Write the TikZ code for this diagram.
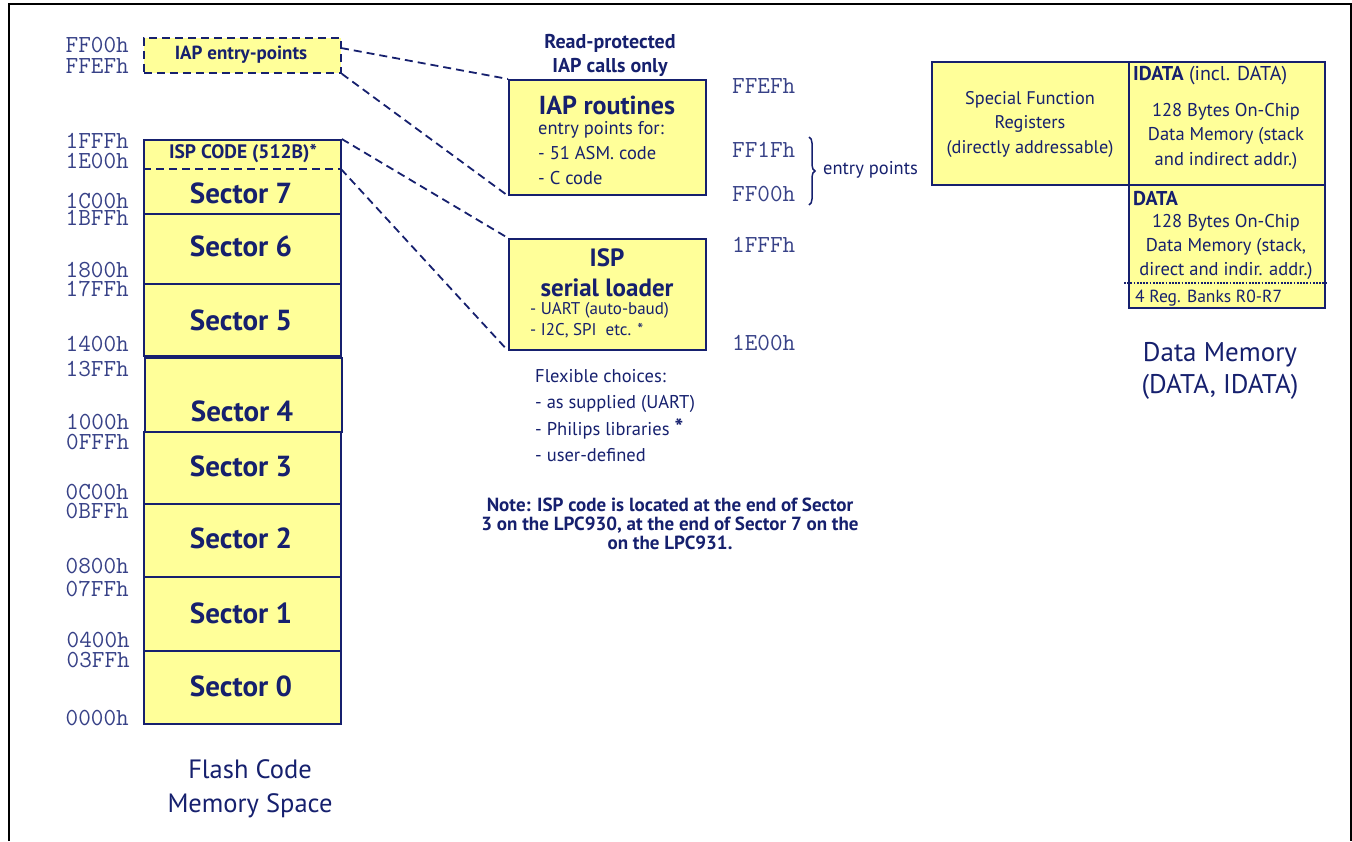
\documentclass[tikz,border=0pt]{standalone}
\usepackage{fontspec}
\setmainfont{PT Sans}
\usetikzlibrary{decorations.pathreplacing}
\definecolor{navy}{RGB}{22,32,110}
\definecolor{addr}{RGB}{55,65,135}
\definecolor{yel}{RGB}{255,255,153}
\tikzset{
  secbox/.style={draw=navy, fill=yel, line width=1.8pt, inner sep=0pt, minimum width=197pt, anchor=north west},
  secl/.style={text=navy, font=\bfseries\fontsize{29}{32}\selectfont, inner sep=0pt},
  adr/.style={text=addr, font=\ttfamily\fontsize{24.5}{25}\selectfont, inner sep=0pt},
  adrl/.style={adr, anchor=east},
  adrp/.style={text=addr, font=\ttfamily\fontsize{24.5}{#1}\selectfont, inner sep=0pt, anchor=east, align=right},
  dashline/.style={draw=navy, line width=1.8pt, dash pattern=on 8pt off 5pt},
  txt/.style={text=navy, inner sep=0pt},
  bigb/.style={txt, font=\bfseries\fontsize{26}{30}\selectfont},
}
\begin{document}
\begin{tikzpicture}[x=1pt,y=-1pt]
\useasboundingbox (0,0) rectangle (1352,841);
% frame
\coordinate (fbl) at (9,841);
\coordinate (ftl) at (9,4);
\coordinate (ftr) at (1351,4);
\coordinate (fbr) at (1351,841);
\draw[line width=2.6pt] (fbl) -- (ftl) -- (ftr) -- (fbr);

% flash column
\node[draw=navy, fill=yel, line width=1.8pt, dash pattern=on 8pt off 5pt, minimum width=197pt, minimum height=35pt, anchor=north west, inner sep=0pt] (iape) at (143,37) {};
\node[txt, font=\bfseries\fontsize{19}{22}\selectfont] (iapet) at (241,55) {IAP entry-points};

\node[secbox, minimum height=74pt] (s7) at (143,139) {};
\coordinate (ispL) at (143,169);
\coordinate (ispR) at (341,169);
\draw[dashline] (ispL) -- (ispR);
\node[txt, font=\bfseries\fontsize{19.5}{22}\selectfont] (ispc) at (243,154) {ISP CODE (512B)*};
\node[secl] (s7t) at (241,193) {Sector 7};
\node[secbox, minimum height=70pt] (s6) at (143,213) {};
\node[secl] (s6t) at (241,246) {Sector 6};
\node[secbox, minimum height=72pt] (s5) at (143,283) {};
\node[secl] (s5t) at (241,320) {Sector 5};
\node[secbox, minimum height=74pt] (s4) at (144,357) {};
\node[secl] (s4t) at (242,411) {Sector 4};
\node[secbox, minimum height=72pt] (s3) at (143,431) {};
\node[secl] (s3t) at (241,466) {Sector 3};
\node[secbox, minimum height=73pt] (s2) at (143,503) {};
\node[secl] (s2t) at (241,538) {Sector 2};
\node[secbox, minimum height=74pt] (s1) at (143,576) {};
\node[secl] (s1t) at (241,613) {Sector 1};
\node[secbox, minimum height=73pt] (s0) at (143,650) {};
\node[secl] (s0t) at (241,686) {Sector 0};

% addresses (stacked pairs)
\node[adrp=21] (a01) at (129,55.5) {FF00h\\FFEFh};
\node[adrp=20] (a03) at (129,151) {1FFFh\\1E00h};
\node[adrp=17] (a05) at (129,209.5) {1C00h\\1BFFh};
\node[adrp=19] (a07) at (129,279.5) {1800h\\17FFh};
\node[adrp=25] (a09) at (129,356.5) {1400h\\13FFh};
\node[adrp=20] (a11) at (129.5,432) {1000h\\0FFFh};
\node[adrp=19] (a13) at (129,501.5) {0C00h\\0BFFh};
\node[adrp=23] (a15) at (129,577.5) {0800h\\07FFh};
\node[adrp=20] (a17) at (130,650) {0400h\\03FFh};
\node[adrl] (a19) at (129,718) {0000h};

\node[txt, font=\fontsize{26.5}{34}\selectfont, align=center] (flcap) at (250,789) {Flash Code\\Memory Space};

% IAP routines
\node[txt, font=\bfseries\fontsize{20}{24}\selectfont, align=center] (rp) at (610,55) {Read-protected\\IAP calls only};
\node[draw=navy, fill=yel, line width=1.8pt, minimum width=197pt, minimum height=115pt, anchor=north west, inner sep=0pt] (iap) at (508,79) {};
\node[bigb] (iapt) at (607,105) {IAP routines};
\node[txt, font=\fontsize{18.5}{25}\selectfont, align=left, anchor=north west] (iapl) at (538,121) {entry points for:\\- 51 ASM. code\\- C code};

% ISP loader
\node[draw=navy, fill=yel, line width=1.8pt, minimum width=197pt, minimum height=111pt, anchor=north west, inner sep=0pt] (isp) at (508,238) {};
\node[bigb, align=center, font=\bfseries\fontsize{25}{30}\selectfont] (ispt) at (607,273) {ISP\\serial loader};
\node[txt, font=\fontsize{17}{21}\selectfont, align=left, anchor=north west] (ispl) at (530,302) {- UART (auto-baud)\\- I2C, SPI\ \ etc. *};

\node[txt, font=\fontsize{18.5}{26.5}\selectfont, align=left, anchor=north west] (flex) at (535,369) {Flexible choices:\\- as supplied (UART)\\- Philips libraries {\bfseries\fontsize{23}{20}\selectfont *}\\- user-defined};

\node[txt, font=\bfseries\fontsize{19}{19}\selectfont, align=center] (note) at (670,524) {Note: ISP code is located at the end of Sector\\3 on the LPC930, at the end of Sector 7 on the\\on the LPC931.};

% connectors
\coordinate (iapeA) at (341,48);
\draw[dashline] (iapeA) -- (iap.north west);
\draw[dashline] (iape.south east) -- (iap.south west);
\draw[dashline] (s7.north east) -- (isp.north west);
\draw[dashline] (ispR) -- (isp.south west);

% right addresses
\node[adr, anchor=west] (b1) at (732,86) {FFEFh};
\node[adr, anchor=west] (b2) at (732,150) {FF1Fh};
\node[adr, anchor=west] (b3) at (732,194) {FF00h};
\node[adr, anchor=west] (b4) at (732,245) {1FFFh};
\node[adr, anchor=west] (b5) at (732,343) {1E00h};
\coordinate (brT) at (809,137);
\coordinate (brB) at (809,205);
\draw[navy, line width=1.5pt, decorate, decoration={brace, amplitude=6pt}] (brT) -- (brB);
\node[txt, font=\fontsize{18.5}{20}\selectfont, anchor=west] (ep) at (823,170) {entry points};

% data memory
\node[draw=navy, fill=yel, line width=1.8pt, minimum width=197pt, minimum height=123pt, anchor=north west, inner sep=0pt] (sfr) at (931,61) {};
\node[draw=navy, fill=yel, line width=1.8pt, minimum width=196pt, minimum height=123pt, anchor=north west, inner sep=0pt] (idata) at (1128,61) {};
\node[draw=navy, fill=yel, line width=1.8pt, minimum width=196pt, minimum height=123pt, anchor=north west, inner sep=0pt] (data) at (1128,184) {};
\coordinate (dotL) at (1124,283);
\coordinate (dotR) at (1326,283);
\draw[navy, line width=1.8pt, dash pattern=on 1.8pt off 1.4pt] (dotL) -- (dotR);

\node[txt, font=\fontsize{18.3}{24.5}\selectfont, align=center] (sfrt) at (1030,124) {Special Function\\Registers\\(directly addressable)};
\node[txt, font=\fontsize{20}{20}\selectfont, anchor=west] (idt) at (1133,76) {\textbf{IDATA} (incl. DATA)};
\node[txt, font=\fontsize{18.5}{24.5}\selectfont, align=center] (idtx) at (1226,136) {128 Bytes On-Chip\\Data Memory (stack\\and indirect addr.)};
\node[txt, font=\bfseries\fontsize{20}{20}\selectfont, anchor=west] (dt) at (1133,199) {DATA};
\node[txt, font=\fontsize{18.5}{24}\selectfont, align=center] (dtx) at (1226,247) {128 Bytes On-Chip\\Data Memory (stack,\\direct and indir. addr.)};
\node[txt, font=\fontsize{17.5}{20}\selectfont, anchor=west] (rb) at (1135,298) {4 Reg. Banks R0-R7};

\node[txt, font=\fontsize{27}{32}\selectfont, align=center] (dmcap) at (1220,371) {Data Memory\\(DATA, IDATA)};
\end{tikzpicture}
\end{document}
